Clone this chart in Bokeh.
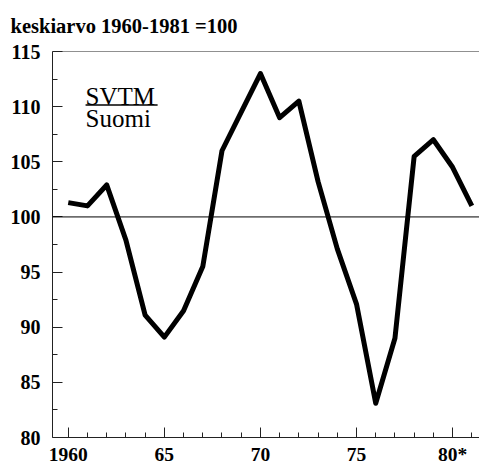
from bokeh.plotting import figure
from bokeh.models import FixedTicker, Span, Label, Range1d
from bokeh.embed import file_html
from bokeh.resources import INLINE

years = list(range(1960, 1982))
values = [101.3, 101.0, 102.9, 97.9, 91.1, 89.1, 91.5, 95.5, 106.0, 109.5, 113.0,
          109.0, 110.5, 103.2, 97.1, 92.1, 83.1, 89.0, 105.5, 107.0, 104.5, 101.0]

x_major = [1960, 1965, 1970, 1975, 1980]
x_labels = ["1960", "65", "70", "75", "80*"]
y_major = [80, 85, 90, 95, 100, 105, 110, 115]
y_minor = [82.5, 87.5, 92.5, 97.5, 102.5, 107.5, 112.5]
title_text = "keskiarvo 1960-1981 =100"
legend_title = "SVTM"
legend_sub = "Suomi"

SERIF = "Liberation Serif"

p = figure(frame_width=427, frame_height=386, output_backend="svg", toolbar_location=None,
           x_range=Range1d(1959.18, 1981.4), y_range=Range1d(80, 115),
           min_border_left=52, min_border_right=0, min_border_top=51, min_border_bottom=0)
p.outline_line_color = None
p.grid.visible = False
p.background_fill_color = "white"
p.border_fill_color = "white"

p.title.text = title_text
p.title.text_font = SERIF
p.title.text_font_style = "bold"
p.title.text_font_size = "20.5px"
p.title.text_color = "black"
p.title.align = "left"
p.title.offset = -42
p.title.vertical_align = "top"
p.title.standoff = 26

xminor = [y for y in years if y not in x_major]
p.xaxis.ticker = FixedTicker(ticks=x_major, minor_ticks=xminor)
p.xaxis.major_label_overrides = {t: l for t, l in zip(x_major, x_labels)}
p.yaxis.ticker = FixedTicker(ticks=y_major, minor_ticks=y_minor)

for ax in (p.xaxis[0], p.yaxis[0]):
    ax.major_tick_in = 10
    ax.major_tick_out = 0
    ax.minor_tick_in = 5
    ax.minor_tick_out = 0
    ax.axis_line_color = "#222222"
    ax.major_tick_line_color = "#222222"
    ax.minor_tick_line_color = "#222222"
    ax.major_label_text_font = SERIF
    ax.major_label_text_font_style = "bold"
    ax.major_label_text_font_size = "20px"
    ax.major_label_text_color = "black"
p.xaxis.major_label_text_font_size = "19.5px"
p.xaxis.major_label_standoff = 6
p.yaxis.major_label_standoff = 12

p.add_layout(Span(location=115, dimension="width", line_color="#222222", line_width=1))
p.add_layout(Span(location=100, dimension="width", line_color="black", line_width=1))

p.line(years, values, line_color="black", line_width=5, line_join="round")

p.add_layout(Label(x=1960.9, y=110.95, text=legend_title, text_font=SERIF,
                   text_font_size="25px", text_color="black", text_baseline="alphabetic"))
p.add_layout(Label(x=1960.9, y=108.93, text=legend_sub, text_font=SERIF,
                   text_font_size="25px", text_color="black", text_baseline="alphabetic"))
p.line([1960.9, 1964.65], [110.15, 110.15], line_color="black", line_width=1.5)

open("out.html", "w").write(file_html(p, INLINE))
